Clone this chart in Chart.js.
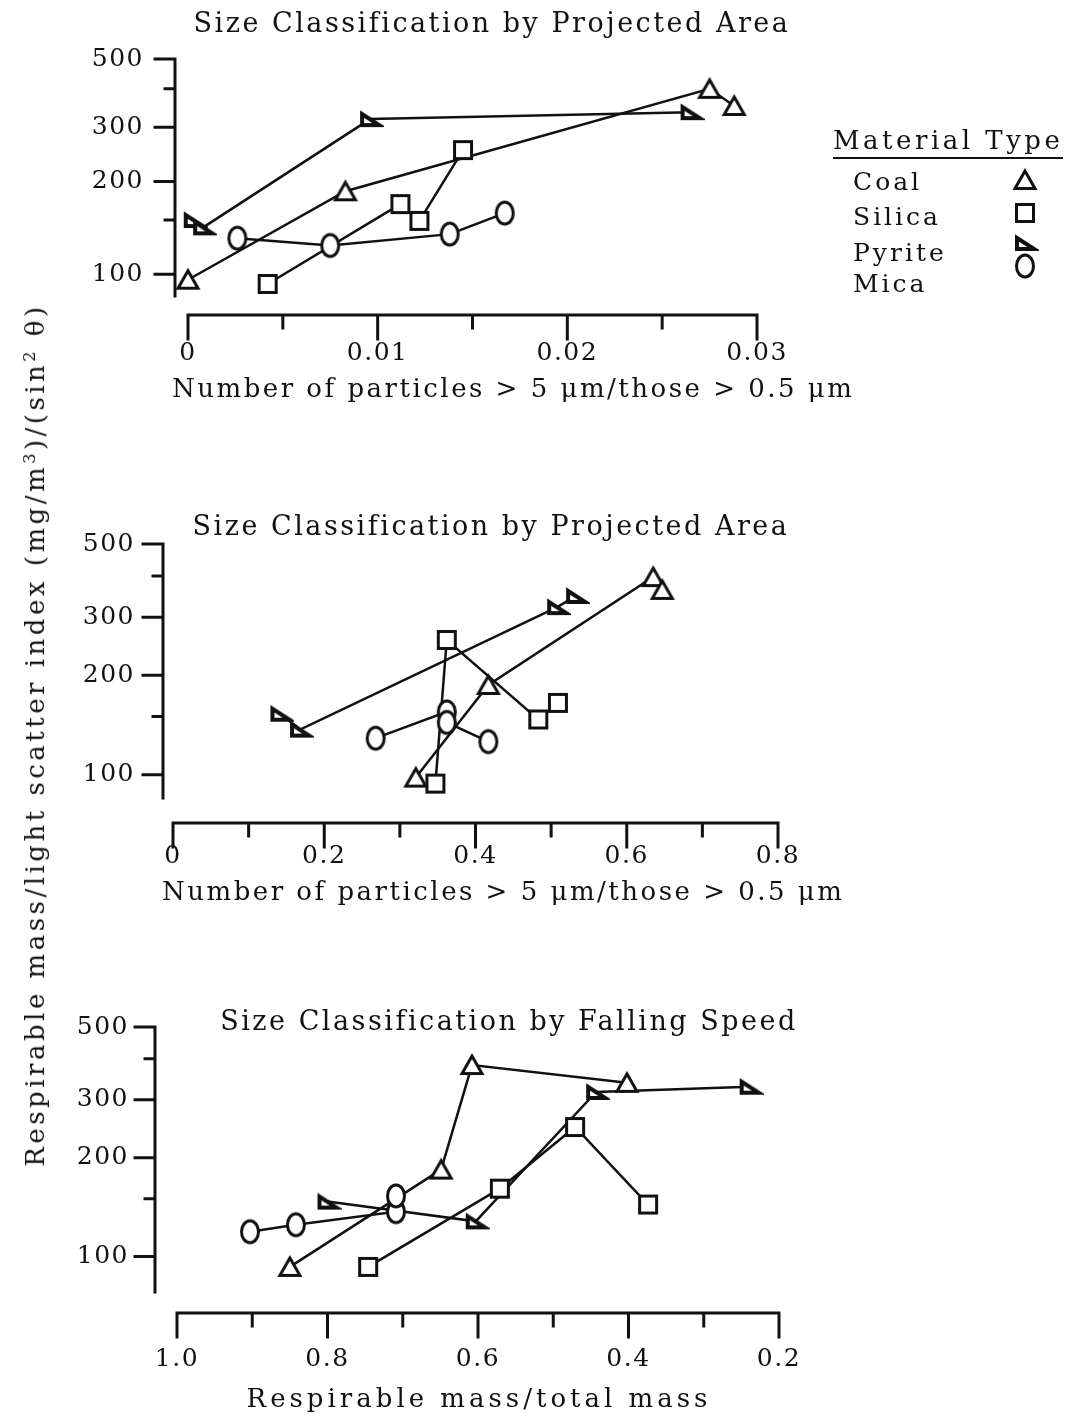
<!DOCTYPE html>
<html>
<head>
<meta charset="utf-8">
<title>Respirable mass / light scatter index</title>
<script src="https://cdn.jsdelivr.net/npm/chart.js@4.4.1/dist/chart.umd.min.js"></script>
<style>
  html, body { margin: 0; background: #fff; }
  body { position: relative; width: 1066px; height: 1419px; overflow: hidden;
         font-family: "DejaVu Serif", "Liberation Serif", serif; color: #111; }
  canvas.panel { position: absolute; left: 0; }
  .txt { position: absolute; white-space: nowrap; line-height: 1; font-size: 26px; letter-spacing: 2.5px; }
  .mid { transform: translate(-50%, -50%); }
  .lft { transform: translateY(-50%); }
  .title { font-size: 27px; letter-spacing: 2.5px; }
  .wide { letter-spacing: 4px; }
  .entry { font-size: 25px; letter-spacing: 3px; }
  #ylab { left: 35px; top: 735px; letter-spacing: 3.5px; transform: translate(-50%, -50%) rotate(-90deg); }
  sup { font-size: 62%; vertical-align: 0.55em; line-height: 0; }
  #legend-head { left: 833px; top: 127px; letter-spacing: 3.5px; padding-bottom: 4px; border-bottom: 2.5px solid #111; }
  .sym { position: absolute; }
</style>
</head>
<body>
<canvas class="panel" id="area1" width="1066" height="440" style="top:0"></canvas>
<canvas class="panel" id="area2" width="1066" height="480" style="top:460px"></canvas>
<canvas class="panel" id="speed" width="1066" height="459" style="top:960px"></canvas>

<div class="txt title mid" style="left:492px; top:22px">Size Classification by Projected Area</div>
<div class="txt lft" style="left:172px; top:388px">Number of particles &gt; 5 μm/those &gt; 0.5 μm</div>
<div class="txt title mid" style="left:491px; top:525px">Size Classification by Projected Area</div>
<div class="txt lft" style="left:162px; top:891px">Number of particles &gt; 5 μm/those &gt; 0.5 μm</div>
<div class="txt title mid" style="left:509px; top:1020px">Size Classification by Falling Speed</div>
<div class="txt wide mid" style="left:479px; top:1398px">Respirable mass/total mass</div>
<div class="txt" id="ylab">Respirable mass/light scatter index (mg/m<sup>3</sup>)/(sin<sup>2</sup> θ)</div>

<div class="txt" id="legend-head">Material Type</div>
<div class="txt entry lft" style="left:853px; top:181px">Coal</div>
<div class="txt entry lft" style="left:853px; top:216px">Silica</div>
<div class="txt entry lft" style="left:853px; top:252px">Pyrite</div>
<div class="txt entry lft" style="left:853px; top:283px">Mica</div>

<script>
const INK = '#111';

// top panel: projected-area sizing, fraction of particles > 5 um
const coal1X = [0, 0.0083, 0.0275, 0.0288];
const coal1Y = [96, 186, 400, 352];
const silica1X = [0.0042, 0.0112, 0.0122, 0.0145];
const silica1Y = [93, 169, 149, 253];
const pyrite1X = [0.0003, 0.0008, 0.0096, 0.0265];
const pyrite1Y = [150, 142, 319, 336];
const mica1X = [0.0026, 0.0075, 0.0138, 0.0167];
const mica1Y = [131, 124, 135, 158];

// middle panel: projected-area sizing, second size ratio
const coal2X = [0.321, 0.417, 0.635, 0.647];
const coal2Y = [98, 187, 397, 363];
const silica2X = [0.347, 0.362, 0.483, 0.509];
const silica2Y = [94, 256, 147, 165];
const pyrite2X = [0.142, 0.168, 0.508, 0.533];
const pyrite2Y = [153, 137, 322, 348];
const mica2X = [0.268, 0.362, 0.362, 0.417];
const mica2Y = [129, 155, 144, 126];

// bottom panel: falling-speed sizing, respirable/total mass
const coal3X = [0.85, 0.649, 0.608, 0.402];
const coal3Y = [93, 184, 383, 338];
const silica3X = [0.746, 0.571, 0.471, 0.374];
const silica3Y = [93, 161, 248, 144];
const pyrite3X = [0.80, 0.603, 0.443, 0.239];
const pyrite3Y = [147, 128, 317, 329];
const mica3X = [0.903, 0.842, 0.709, 0.709];
const mica3Y = [119, 125, 137, 153];

const yTicks = [100, 150, 200, 300, 400, 500];
const yTickLabels = ['100', '', '200', '300', '', '500'];

const area1Ticks = [0, 0.005, 0.01, 0.015, 0.02, 0.025, 0.03];
const area1Labels = ['0', '', '0.01', '', '0.02', '', '0.03'];
const area2Ticks = [0, 0.1, 0.2, 0.3, 0.4, 0.5, 0.6, 0.7, 0.8];
const area2Labels = ['0', '', '0.2', '', '0.4', '', '0.6', '', '0.8'];
const speedTicks = [0.2, 0.3, 0.4, 0.5, 0.6, 0.7, 0.8, 0.9, 1.0];
const speedLabels = ['0.2', '', '0.4', '', '0.6', '', '0.8', '', '1.0'];

// open plotting symbols, one per material
function marker(kind) {
  const c = document.createElement('canvas');
  c.width = 28; c.height = 28;
  const g = c.getContext('2d');
  g.strokeStyle = INK; g.fillStyle = '#fff'; g.lineWidth = 3; g.lineJoin = 'miter';
  g.beginPath();
  if (kind === 'coal') {
    g.moveTo(14, 5); g.lineTo(24, 22.5); g.lineTo(4, 22.5); g.closePath();
  } else if (kind === 'silica') {
    g.rect(5.5, 5.5, 17, 17);
  } else if (kind === 'pyrite') {
    g.lineWidth = 4;
    g.moveTo(6, 9); g.lineTo(23, 20); g.lineTo(6, 20); g.closePath();
  } else {
    g.ellipse(14, 14, 8.5, 11, 0, 0, Math.PI * 2);
  }
  g.fill(); g.stroke();
  return c;
}

// legend symbols
[['coal', 180], ['silica', 213], ['pyrite', 243], ['mica', 266]].forEach(([k, y]) => {
  const m = marker(k);
  m.className = 'sym';
  m.style.left = '1011px';
  m.style.top = (y - 14) + 'px';
  document.body.appendChild(m);
});

// canvas text in the typewriter look: a little letter spacing
const spacing = {
  id: 'spacing',
  beforeUpdate(chart) { chart.ctx.letterSpacing = '1.5px'; },
  beforeDraw(chart) { chart.ctx.letterSpacing = '1.5px'; }
};

// axes drawn apart from the plot corner, ticks pointing outward
const handAxes = {
  id: 'handAxes',
  afterDraw(chart, args, opts) {
    const { ctx, chartArea: a, scales: { x, y } } = chart;
    ctx.save();
    ctx.strokeStyle = INK;
    ctx.lineWidth = 3;
    ctx.lineCap = 'square';
    ctx.beginPath();
    const ax = a.left - opts.yGap;
    ctx.moveTo(ax, a.top);
    ctx.lineTo(ax, a.bottom);
    y.ticks.forEach(t => {
      const py = y.getPixelForValue(t.value);
      ctx.moveTo(ax, py);
      ctx.lineTo(ax - (t.label ? 20 : 10), py);
    });
    const ay = a.bottom + opts.xGap;
    ctx.moveTo(x.getPixelForValue(x.min), ay);
    ctx.lineTo(x.getPixelForValue(x.max), ay);
    x.ticks.forEach(t => {
      const px = x.getPixelForValue(t.value);
      ctx.moveTo(px, ay);
      ctx.lineTo(px, ay + (t.label ? 24 : 13));
    });
    ctx.stroke();
    ctx.restore();
  }
};

function buildPanel(id, g, sets) {
  const datasets = [];
  sets.forEach(s => {
    const pts = s.x.map((v, i) => ({ x: v, y: s.y[i] }));
    datasets.push({ data: pts, showLine: true, borderColor: INK, borderWidth: 2.5,
                    pointRadius: 0, order: 2, clip: false });
    datasets.push({ data: pts, showLine: false, pointStyle: marker(s.kind),
                    pointRadius: 11, order: 1, clip: false });
  });
  const tickFont = { family: '"DejaVu Serif", serif', size: 25 };
  new Chart(document.getElementById(id), {
    type: 'scatter',
    data: { datasets },
    plugins: [spacing, handAxes],
    options: {
      responsive: false,
      animation: false,
      events: [],
      layout: { padding: { top: g.top, right: g.right, bottom: 0, left: 0 } },
      plugins: {
        legend: { display: false },
        tooltip: { enabled: false },
        handAxes: { xGap: g.xGap, yGap: g.yGap }
      },
      scales: {
        x: {
          type: 'linear',
          min: g.xMin, max: g.xMax, reverse: !!g.reverse,
          grid: { display: false, drawTicks: false },
          border: { display: false },
          afterBuildTicks: s => { s.ticks = g.ticks.map(v => ({ value: v })); },
          afterFit: s => { s.height = g.xh; },
          ticks: {
            color: INK, font: tickFont, padding: g.xPad, maxRotation: 0, autoSkip: false,
            callback: (v, i) => g.labels[i]
          }
        },
        y: {
          type: 'logarithmic',
          min: g.yMin, max: 500,
          grid: { display: false, drawTicks: false },
          border: { display: false },
          afterBuildTicks: s => { s.ticks = yTicks.map(v => ({ value: v })); },
          afterFit: s => { s.width = g.left; },
          ticks: {
            color: INK, font: tickFont, padding: g.yPad, autoSkip: false,
            callback: (v, i) => yTickLabels[i]
          }
        }
      }
    }
  });
}

buildPanel('area1',
  { top: 44, right: 309, left: 188, xh: 144, xMin: 0, xMax: 0.03, yMin: 85,
    ticks: area1Ticks, labels: area1Labels, xPad: 42, yPad: 44, xGap: 19, yGap: 13 },
  [{ kind: 'coal', x: coal1X, y: coal1Y }, { kind: 'silica', x: silica1X, y: silica1Y },
   { kind: 'pyrite', x: pyrite1X, y: pyrite1Y }, { kind: 'mica', x: mica1X, y: mica1Y }]);

buildPanel('area2',
  { top: 84, right: 288, left: 173, xh: 142, xMin: 0, xMax: 0.8, yMin: 85,
    ticks: area2Ticks, labels: area2Labels, xPad: 43, yPad: 38, xGap: 25, yGap: 10 },
  [{ kind: 'coal', x: coal2X, y: coal2Y }, { kind: 'silica', x: silica2X, y: silica2Y },
   { kind: 'pyrite', x: pyrite2X, y: pyrite2Y }, { kind: 'mica', x: mica2X, y: mica2Y }]);

buildPanel('speed',
  { top: 67, right: 287, left: 177, xh: 127, xMin: 0.2, xMax: 1.0, reverse: true, yMin: 78,
    ticks: speedTicks, labels: speedLabels, xPad: 52, yPad: 48, xGap: 21, yGap: 22 },
  [{ kind: 'coal', x: coal3X, y: coal3Y }, { kind: 'silica', x: silica3X, y: silica3Y },
   { kind: 'pyrite', x: pyrite3X, y: pyrite3Y }, { kind: 'mica', x: mica3X, y: mica3Y }]);
</script>
</body>
</html>
